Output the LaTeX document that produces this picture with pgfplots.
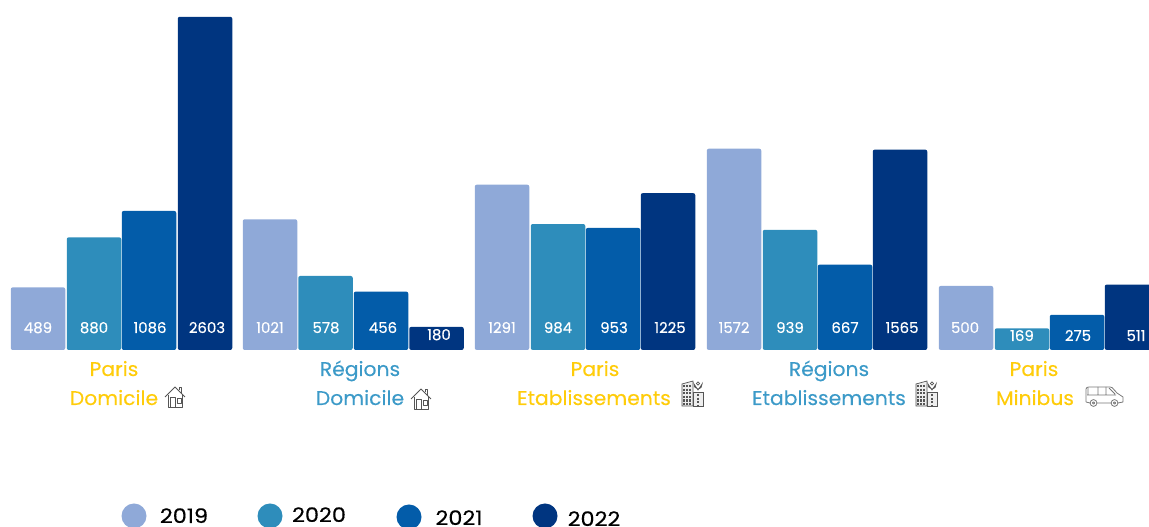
\documentclass[border=0pt]{standalone}
\usepackage{fontspec}
\setmainfont{Poppins}
\newfontfamily\lab[FakeStretch=1.03,FakeBold=0.25]{Poppins}
\newfontfamily\val[FakeBold=0.3]{Poppins}
\newfontfamily\leg[FakeStretch=1.12,FakeBold=0.4]{Poppins}
\usepackage{pgfplots}
\pgfplotsset{compat=1.18}
\definecolor{cA}{HTML}{8FA9D8}
\definecolor{cB}{HTML}{2E8DBB}
\definecolor{cC}{HTML}{035CA9}
\definecolor{cD}{HTML}{003580}
\definecolor{yel}{HTML}{FFCC0A}
\definecolor{blu}{HTML}{3C9AC8}
\definecolor{ico}{HTML}{555555}
\newcommand{\house}[2]{\begin{scope}[shift={(#1,#2)},draw=ico,line width=.6pt,line join=round]
\draw (-10,0) -- (0,-10) -- (10,0);
\draw (4,-7) -- (4,-10) -- (6,-10) -- (6,-4);
\draw (-7,-2) -- (-7,10) -- (7,10) -- (7,-2);
\draw (-5,0) rectangle (0,10);
\draw (2,1) rectangle (6,6);
\end{scope}}
\newcommand{\building}[2]{\begin{scope}[shift={(#1,#2)},draw=ico,line width=.55pt]
\draw[fill=ico!10] (-10,-9) -- (1,-12) -- (1,13) -- (-10,13) -- cycle;
\draw[fill=ico!10] (1,-1) rectangle (11,13);
\foreach \x in {-8,-5,-2} \draw[line width=1.7pt,dash pattern=on 1.7pt off 1pt,draw=ico] (\x,-8) -- (\x,12);
\draw[line width=2pt,dash pattern=on 1.7pt off 1pt,draw=ico] (6,1) -- (6,12);
\draw[fill=white] (6,-3) -- (2,-9) arc (190:-10:4.1) -- cycle;
\draw (6,-9.5) circle (1.6);
\end{scope}}
\newcommand{\van}[2]{\begin{scope}[shift={(#1,#2)},draw=ico!80,line width=.6pt,line join=round]
\draw (-18,6) -- (-18,-7) to[out=90,in=180] (-15,-9) -- (6,-9) to[out=0,in=150] (13,-3) to[out=-30,in=150] (19,1) -- (19,6) -- (14,7) (7,7) -- (-7,7) (-14,7) -- (-18,6);
\draw (-17,-1) -- (12,-1) (-16,-8) -- (-16,-1) (-6,-9) -- (-6,-1) (2,-9) -- (2,-1) (5,-8) -- (11,-2);
\draw (-10.5,7) circle (3.4) (10.5,7) circle (3.4);
\draw (-10.5,7) circle (1.2) (10.5,7) circle (1.2);
\end{scope}}
\begin{document}
\begin{tikzpicture}
\useasboundingbox (0,0) rectangle (861.75pt,395.25pt);
\begin{axis}[at={(0,0)},anchor=south west,scale only axis,width=861.75pt,height=395.25pt,
  hide axis,clip=true,
  xmin=0,xmax=1149,ymin=-1383,ymax=2734,
  ybar,bar shift=0pt,bar width=54.5,
  every axis plot/.append style={draw=none,rounded corners=1.5pt}]
\addplot[fill=cA] coordinates {(38,489) (270,1021) (502,1291) (734,1572) (966,500)};
\addplot[fill=cB] coordinates {(94,880) (325.5,578) (558,984) (790,939) (1022,169)};
\addplot[fill=cC] coordinates {(149,1086) (381,456) (613,953) (845,667) (1077,275)};
\addplot[fill=cD] coordinates {(205,2603) (436.5,180) (668,1225) (900,1565) (1132,511)};
\end{axis}
\begin{scope}[x=0.75pt,y=-0.75pt,shift={(0,395.25pt)}]
\begin{scope}[every node/.style={anchor=base,text=white,font=\val\fontsize{11.2pt}{13pt}\selectfont,inner sep=0pt}]
\node at (38,333) {489};\node at (94,333) {880};\node at (150,333) {1086};\node at (207,333) {2603};
\node at (270,333) {1021};\node at (326,333) {578};\node at (383,333) {456};\node at (439,340) {180};
\node at (502,333) {1291};\node at (558,333) {984};\node at (614,333) {953};\node at (670,333) {1225};
\node at (734,333) {1572};\node at (790,333) {939};\node at (845,333) {667};\node at (902,333) {1565};
\node at (965,333) {500};\node at (1022,341) {169};\node at (1078,341) {275};\node at (1136,341) {511};
\end{scope}
\begin{scope}[every node/.style={anchor=base,font=\lab\fontsize{14.8pt}{17pt}\selectfont,inner sep=0pt}]
\node[text=yel] at (114,376) {Paris};\node[text=yel] at (114,405) {Domicile};
\node[text=blu] at (360,376) {Régions};\node[text=blu] at (360,405) {Domicile};
\node[text=yel] at (595,376) {Paris};\node[text=yel] at (594,405) {Etablissements};
\node[text=blu] at (829,376) {Régions};\node[text=blu] at (829,405) {Etablissements};
\node[text=yel] at (1034,376) {Paris};\node[text=yel] at (1035,405) {Minibus};
\end{scope}
\house{175}{397}\house{421}{399}
\building{692}{393}\building{926}{393}
\van{1104}{396}
\fill[cA] (134,516) circle (12.5);\fill[cB] (270,516) circle (12.5);
\fill[cC] (409,517) circle (12.5);\fill[cD] (545,516) circle (12.5);
\begin{scope}[every node/.style={anchor=base,text=black,font=\leg\fontsize{15pt}{17pt}\selectfont,inner sep=0pt}]
\node at (184,523) {2019};\node at (319,522) {2020};\node at (459,525) {2021};\node at (594,526) {2022};
\end{scope}
\end{scope}
\end{tikzpicture}
\end{document}
